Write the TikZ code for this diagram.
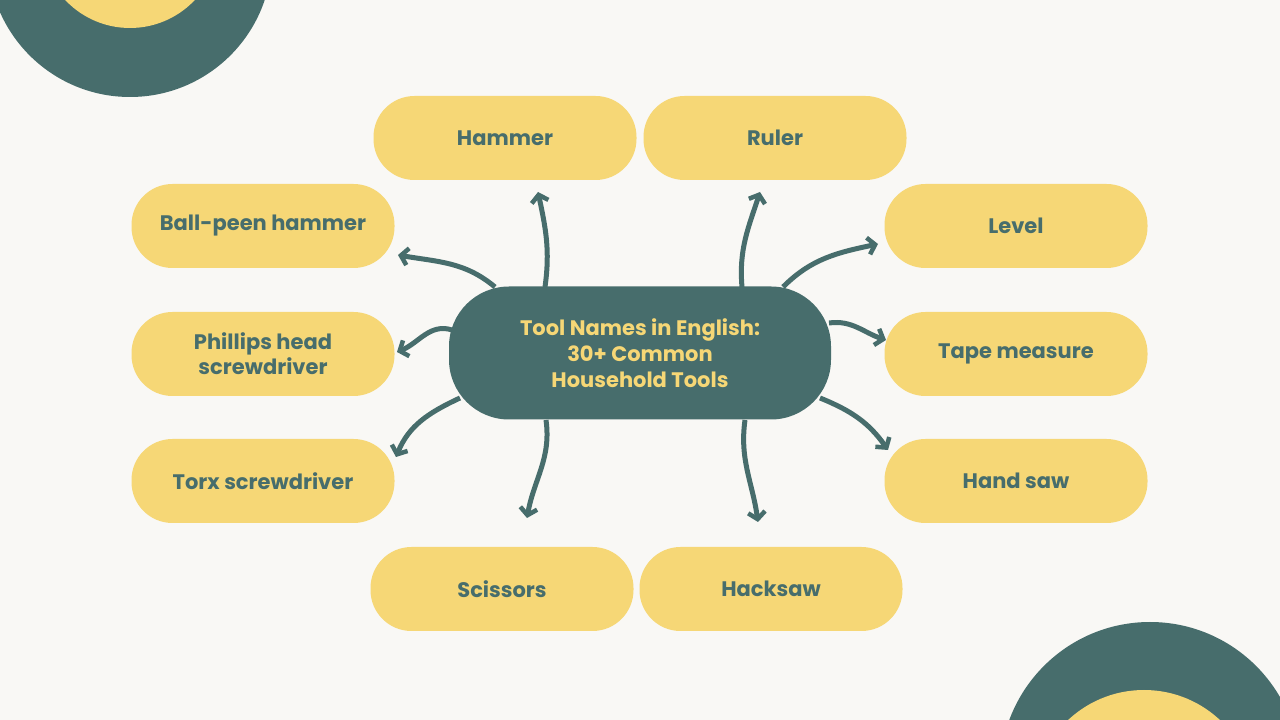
\documentclass[tikz,border=0pt]{standalone}
\usepackage{fontspec}
\setmainfont{Poppins}
\usetikzlibrary{arrows.meta}
\definecolor{bg}{HTML}{F9F8F5}
\definecolor{teal}{HTML}{476D6C}
\definecolor{yel}{HTML}{F6D776}
\begin{document}
\begin{tikzpicture}[x=1pt,y=1pt,
  pill/.style={fill=yel,rounded corners=41pt,minimum width=263pt,minimum height=84pt,text=teal,font=\fontsize{21}{25}\selectfont\bfseries,align=center,inner sep=0},
  arr/.style={draw=teal,line width=5pt,-{Straight Barb[length=7pt,width=17pt,line width=4.5pt]}}]
\fill[bg] (0,0) rectangle (1280,720);
\clip (0,0) rectangle (1280,720);
\fill[teal] (130,765) circle (142);
\fill[yel] (130,781) circle (89);
\fill[teal] (1150,-52) circle (150);
\fill[yel] (1144,-81) circle (111);
\node[pill] (hammer) at (505,582) {Hammer};
\node[pill] (ruler) at (775,582) {Ruler};
\node[pill] (ball) at (263,494) {Ball-peen hammer};
\node[pill] (level) at (1016,494) {Level};
\node[pill] (phil) at (263,366) {Phillips head\\screwdriver};
\node[pill] (tape) at (1016,366) {Tape measure};
\node[pill] (torx) at (263,239) {Torx screwdriver};
\node[pill] (hand) at (1016,239) {Hand saw};
\node[pill] (sci) at (502,131) {Scissors};
\node[pill] (hack) at (771,131) {Hacksaw};
\node[fill=teal,rounded corners=60pt,minimum width=382pt,minimum height=133pt,text=yel,font=\fontsize{21}{26}\selectfont\bfseries,align=center,inner sep=0] (c) at (640,367) {Tool Names in English:\\30+ Common\\Household Tools};
\coordinate (e1) at (538,528); \coordinate (e2) at (760,528);
\coordinate (e3) at (398,465); \coordinate (e4) at (878,476);
\coordinate (e5) at (397,368); \coordinate (e6) at (886,380);
\coordinate (e7) at (396,263); \coordinate (e8) at (888,270);
\coordinate (e9) at (527,202); \coordinate (e10) at (758,198);
\draw[arr] (545,433) to[out=82,in=-78] (e1);
\draw[arr] (742,433) to[out=95,in=-108] (e2);
\draw[arr] (495,433) to[out=140,in=-10] (e3);
\draw[arr] (783,433) to[out=45,in=192] (e4);
\draw[arr] (452,390) to[out=162,in=22] (e5);
\draw[arr] (829,397) to[out=8,in=162] (e6);
\draw[arr] (460,322) to[out=205,in=68] (e7);
\draw[arr] (820,322) to[out=-22,in=125] (e8);
\draw[arr] (546,300) to[out=-82,in=80] (e9);
\draw[arr] (745,300) to[out=-98,in=98] (e10);
\end{tikzpicture}
\end{document}
